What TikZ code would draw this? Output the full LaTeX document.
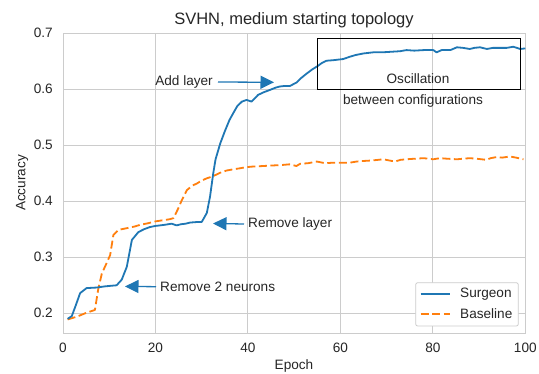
\documentclass[tikz,border=0pt]{standalone}
\usepackage{fontspec}
\setmainfont{Liberation Sans}
\usetikzlibrary{arrows.meta}
\definecolor{mblue}{HTML}{1F77B4}
\definecolor{morange}{HTML}{FF7F0E}
\definecolor{gridgray}{HTML}{CCCCCC}
\definecolor{txt}{HTML}{262626}
\tikzset{
  gridline/.style={gridgray, line width=0.9pt},
  ticklbl/.style={text=txt, font=\fontsize{13.6}{16}\selectfont, inner sep=0pt},
  annot/.style={text=txt, font=\fontsize{13.6}{16}\selectfont, inner sep=0pt},
  pointer/.style={mblue, line width=1.3pt, -{Triangle[length=13.5pt,width=13pt]}},
  surgeon/.style={mblue, line width=1.8pt, line join=round},
  baseline/.style={morange, line width=1.8pt, dash pattern=on 8pt off 3.6pt, line join=round},
}
\begin{document}
\begin{tikzpicture}[x=1pt,y=1pt]
\useasboundingbox (0,0) rectangle (539,374);
\fill[white] (0,0) rectangle (539,374);

% data frame: epoch -> x, accuracy -> y
\begin{scope}[x=4.623pt, y=560pt, shift={(63pt,-51.3pt)}]
  \coordinate (ll) at (0,0.1643);
  \coordinate (ur) at (100,0.7);
  % grid
  \foreach \e in {20,40,60,80}
    \draw[gridline] (\e,0.1643) -- (\e,0.7);
  \foreach \a in {0.2,0.3,0.4,0.5,0.6}
    \draw[gridline] (0,\a) -- (100,\a);
  \draw[gridline] (ll) rectangle (ur);
  % tick labels
  \foreach \e in {0,20,40,60,80,100}
    \node[ticklbl] (xt\e) at (\e,0.1643) [yshift=-15pt] {\e};
  \foreach \a in {0.2,0.3,0.4,0.5,0.6,0.7}
    \node[ticklbl, anchor=east] (yt\a) at (0,\a) [xshift=-10pt] {\a};

  % baseline accuracy
  \draw[baseline] plot coordinates {
    (1,0.189) (3,0.194) (5.1,0.201) (6.9,0.206) (7.6,0.242) (8.4,0.271) (9.4,0.289)
    (10.2,0.304) (10.9,0.340) (12,0.349) (13.8,0.352) (15.5,0.355) (16.7,0.358)
    (18.5,0.361) (19.9,0.364) (21.5,0.366) (23.1,0.368) (23.9,0.370) (24.8,0.385)
    (25.7,0.402) (26.8,0.420) (28,0.428) (29,0.432) (30,0.437) (31.1,0.441)
    (32.5,0.445) (34,0.451) (35.4,0.455) (36.8,0.457) (38.3,0.459) (39.7,0.461)
    (41,0.462) (43.3,0.463) (45.5,0.464) (47.6,0.465) (49,0.466) (50.5,0.463)
    (51.3,0.467) (53,0.468) (54.9,0.471) (56.7,0.468) (58.5,0.469) (60.3,0.469)
    (62.1,0.469) (63.5,0.471) (65,0.472) (67,0.473) (69.3,0.475) (70.5,0.473)
    (71.8,0.471) (73,0.474) (74.3,0.475) (76,0.476) (78,0.477) (80.1,0.475)
    (81.5,0.477) (83.2,0.476) (85.2,0.475) (86.5,0.476) (88,0.477) (89.5,0.476)
    (91.6,0.474) (92.5,0.477) (93.8,0.479) (95,0.478) (96.7,0.480) (98,0.478)
    (99.6,0.475)};

  % surgeon accuracy
  \draw[surgeon] plot coordinates {
    (1,0.190) (1.9,0.195) (2.8,0.215) (3.7,0.236) (5.1,0.245) (7.3,0.246) (9,0.248)
    (10.2,0.249) (11.6,0.250) (12.7,0.260) (13.8,0.283) (14.9,0.331) (16.3,0.345)
    (17.5,0.350) (18.8,0.354) (20,0.356) (21,0.357) (22,0.358) (23.5,0.360)
    (24.6,0.357) (25.5,0.359) (26.5,0.360) (27.5,0.362) (29,0.363) (30,0.363)
    (31.1,0.379) (31.8,0.408) (32.5,0.450) (33,0.475) (34,0.503) (35,0.525)
    (36,0.545) (36.8,0.557) (37.7,0.570) (38.7,0.578) (39.7,0.581) (40.8,0.578)
    (42.2,0.590) (43.5,0.595) (44.8,0.599) (46,0.603) (46.9,0.605) (48,0.606)
    (49.1,0.606) (50.5,0.612) (51.5,0.620) (52.7,0.628) (54,0.636) (55,0.641)
    (56,0.647) (57,0.651) (58.5,0.652) (60.6,0.654) (62,0.658) (63.2,0.661)
    (65,0.664) (67.1,0.666) (69,0.666) (71,0.667) (72.9,0.668) (74.3,0.670)
    (76,0.669) (78,0.670) (80.1,0.670) (80.8,0.666) (81.9,0.670) (83.8,0.670)
    (85.2,0.675) (86.5,0.674) (88,0.672) (89,0.674) (90.2,0.675) (91.7,0.672)
    (93,0.674) (94.5,0.674) (96,0.674) (97.4,0.676) (98.9,0.672) (100,0.673)};
\end{scope}

% title and axis labels
\node[text=txt, font=\fontsize{16.5}{19}\selectfont, inner sep=0pt] (title) at (294,354) {SVHN, medium starting topology};
\node[ticklbl] (xlabel) at (294,8) {Epoch};
\node[ticklbl, rotate=90] (ylabel) at (22,191) {Accuracy};

% oscillation box
\draw[black, line width=1.1pt] (317.3,335.3) rectangle (520.7,284.7);
\node[annot] (osc) at (418,295) {Oscillation};
\node[annot] (between) at (413,273) {between configurations};

% annotations
\node[annot, anchor=east] (addl) at (213,292) {Add layer};
\coordinate (addtip) at (274,291.7);
\draw[pointer] (addl.east) ++(5pt,0) -- (addtip);

\node[annot, anchor=west] (reml) at (248,150) {Remove layer};
\coordinate (remtip) at (213,150.5);
\draw[pointer] (reml.west) ++(-4pt,0) -- (remtip);

\node[annot, anchor=west] (remn) at (160,87.3) {Remove 2 neurons};
\coordinate (neutip) at (125,87.6);
\draw[pointer] (remn.west) ++(-4pt,0) -- (neutip);

% legend
\draw[gridgray, fill=white, line width=0.8pt, rounded corners=2pt] (415.7,48) rectangle (518.3,91.3);
\draw[surgeon] (420.7,79.7) -- (450,79.7);
\node[annot, anchor=west] (lgs) at (460,79.7) {Surgeon};
\draw[baseline] (420.7,60.3) -- (450,60.3);
\node[annot, anchor=west] (lgb) at (460,60.3) {Baseline};
\end{tikzpicture}
\end{document}
